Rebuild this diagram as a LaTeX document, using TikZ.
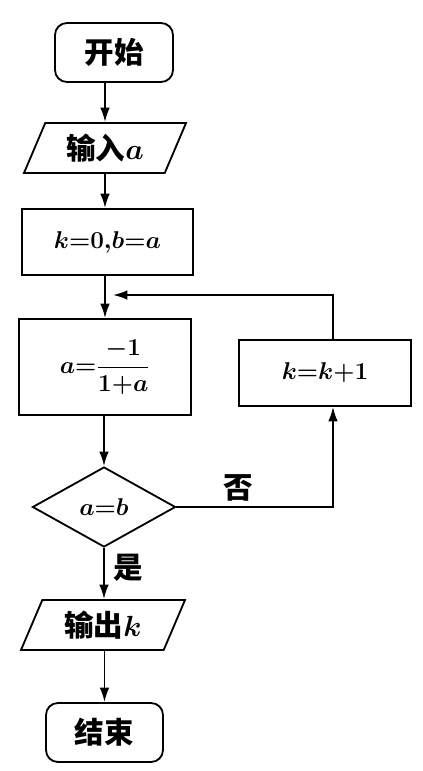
\documentclass[tikz,border=0pt]{standalone}
\usepackage{amsmath}
\usepackage{fontspec}
\newfontfamily\cjk{Noto Sans CJK SC}
\usetikzlibrary{shapes.geometric,arrows.meta}

\begin{document}
\begin{tikzpicture}[x=0.025cm,y=-0.025cm,line width=1.3pt,
		>={Latex[length=0.36cm,width=0.24cm]},
		every node/.style={font=\fontsize{17}{20}\selectfont\bfseries\boldmath},
		zh/.style={font=\fontsize{21}{24}\selectfont\cjk\bfseries\boldmath},
		term/.style={draw,rounded corners=0.3cm,minimum width=2.95cm,minimum height=1.475cm},
		io/.style={draw,trapezium,trapezium left angle=53,trapezium right angle=127,trapezium stretches body,minimum width=4.05cm,minimum height=1.25cm,inner sep=0pt},
		proc/.style={draw,rectangle,minimum width=4.3cm,minimum height=1.65cm},
		cond/.style={draw,diamond,minimum width=3.575cm,minimum height=2cm,inner sep=0pt}]
	\useasboundingbox (0,0) rectangle (422,771);
	% nodes
	\node[term,zh] (start) at (114,52.5) {开始};
	\node[io,zh] (inp) at (105,148) {输入$a$};
	\node[proc,minimum width=4.275cm] (init) at (107.5,242) {$k{=}0{,}b{=}a$};
	\node[proc,minimum height=2.4cm] (upd) at (105,367) {$a{=}\dfrac{-1}{1{+}a}$};
	\node[proc] (inc) at (325,373) {$k{=}k{+}1$};
	\node[cond] (test) at (104,507) {$a{=}b$};
	\node[io,zh,minimum width=4.1cm] (outp) at (103,625) {输出$k$};
	\node[term,zh,minimum width=2.925cm] (stop) at (104.5,732.5) {结束};
	\node[zh] (no) at (238,488) {否};
	\node[zh] (yes) at (128,568) {是};
	\coordinate (join) at (105,295);
	\coordinate (back) at (333,295);
	% connectors
	\draw[->] (start.south -| inp.north) -- (inp.north);
	\draw[->] (inp.south) -- (inp.south |- init.north);
	\draw (init.south -| join) -- (join);
	\draw[->] (join) -- (upd.north);
	\draw[->] (upd.south -| test.north) -- (test.north);
	\draw[->] (test.south) -- (test.south |- outp.north);
	\draw[->] (outp.south -| stop.north) -- (stop.north);
	\draw[->] (test.east) -- (test.east -| back) -- (inc.south -| back);
	\draw[->,shorten >=0.2cm] (inc.north -| back) -- (back) -- (join);
\end{tikzpicture}
\end{document}
